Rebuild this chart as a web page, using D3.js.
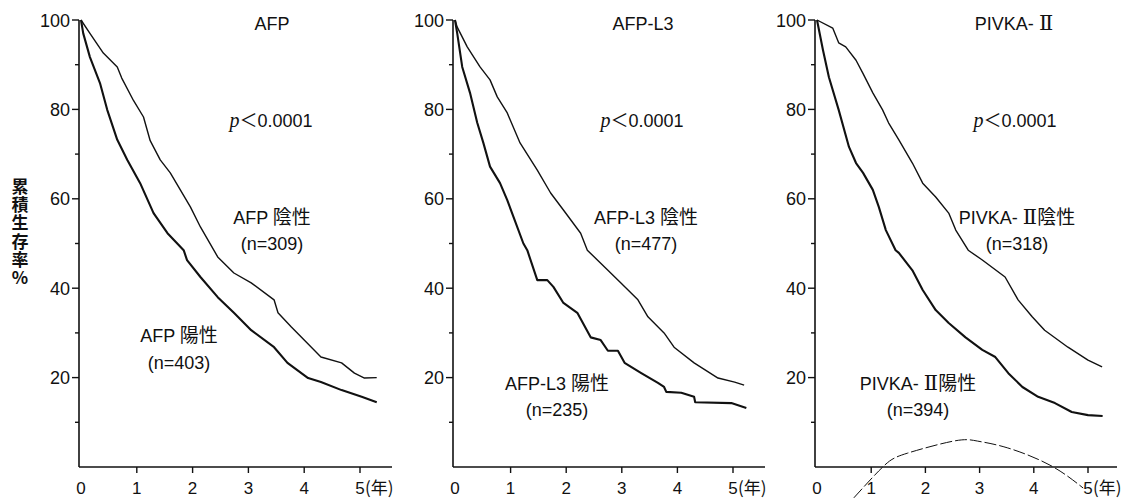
<!DOCTYPE html>
<html><head><meta charset="utf-8">
<script src="https://cdn.jsdelivr.net/npm/d3@7/dist/d3.min.js"></script>
<style>
html,body{margin:0;padding:0;background:#fff;}
svg{display:block;}
.lat{font-family:"Liberation Sans",Arial,sans-serif;}
.jp{font-family:"Noto Sans CJK JP","Liberation Sans",sans-serif;}
.roman{font-family:"DejaVu Serif","Liberation Serif",serif;}
</style>
</head><body>
<svg id="c" width="1135" height="499"></svg>
<script>
// ---- data (years, cumulative survival %) ----
const panelTitles = [["AFP", ""], ["AFP-L3", ""], ["PIVKA- ", "Ⅱ"]];
const negLabels = [["AFP ", "", "陰性"], ["AFP-L3 ", "", "陰性"], ["PIVKA- ", "Ⅱ", "陰性"]];
const posLabels = [["AFP ", "", "陽性"], ["AFP-L3 ", "", "陽性"], ["PIVKA- ", "Ⅱ", "陽性"]];
const negN = ["(n=309)", "(n=477)", "(n=318)"];
const posN = ["(n=403)", "(n=235)", "(n=394)"];
const pText = "0.0001";
const xTicks = [0, 1, 2, 3, 4, 5];
const yTicksMajor = [20, 40, 60, 80, 100];
const yTicksMinor = [10, 30, 50, 70, 90];
const yLabel = "累積生存率%";

const afpNegT = [0,0.16,0.4,0.65,0.73,0.94,1.12,1.24,1.42,1.6,1.78,1.96,2.14,2.38,2.45,2.74,3.05,3.46,3.53,3.77,4.0,4.3,4.67,4.9,5.08,5.3];
const afpNegV = [100,97,92.6,89.5,87,82,78.3,73,68.7,65.8,62,58.2,53.7,48.5,47,43.4,41.2,37.4,34.5,31.3,28.4,24.6,23.3,21,19.9,20];
const afpPosT = [0,0.04,0.16,0.34,0.47,0.65,0.83,1.06,1.3,1.55,1.84,1.9,2.14,2.45,2.74,3.05,3.46,3.7,4.07,4.3,4.67,5.03,5.3];
const afpPosV = [100,97,91.7,85.9,79.9,73.2,68.7,63.5,56.8,52.3,48.5,46.3,42.5,38,34.5,30.6,26.8,23.3,19.9,19,17.2,15.7,14.5];

const l3NegT = [0,0.04,0.22,0.45,0.63,0.76,0.94,1.17,1.48,1.72,1.95,2.26,2.38,2.75,2.98,3.29,3.47,3.76,3.94,4.3,4.73,5.03,5.2];
const l3NegV = [100,98.4,94,89.5,86.6,82.8,79.2,72.5,66.4,61.3,57.5,52.3,48.5,44,41.2,37.4,33.6,30,26.8,23.3,19.9,19,18.3];
const l3PosT = [0,0.04,0.13,0.27,0.4,0.51,0.63,0.81,0.94,1.05,1.23,1.3,1.48,1.66,1.77,1.95,2.2,2.44,2.62,2.75,2.93,3.05,3.35,3.65,3.76,3.8,4.07,4.3,4.32,4.97,5.24];
const l3PosV = [100,97,89.5,83.7,77,72.5,67.2,63.5,59.7,56,50,48.5,41.8,41.8,40.3,36.7,34.5,29,28.4,26,26,23.3,21,18.8,17.9,16.8,16.6,15.7,14.5,14.3,13.2];

const pivNegT = [0,0.29,0.4,0.53,0.72,0.85,1.03,1.21,1.32,1.51,1.76,1.95,2.19,2.43,2.56,2.79,3.05,3.47,3.71,3.97,4.2,4.63,5.0,5.26];
const pivNegV = [100,98.2,94.9,94,91,88,83.7,79.9,77,73.2,68,63.5,60.4,56.8,53,48.5,46.3,42.5,37.4,33.6,30.6,26.8,23.9,22.4];
const pivPosT = [0,0.11,0.22,0.4,0.59,0.72,0.85,1.03,1.14,1.27,1.45,1.51,1.76,1.95,2.19,2.43,2.74,3.05,3.29,3.53,3.79,4.08,4.39,4.7,5.0,5.27];
const pivPosV = [100,93.3,87.2,79.9,71.6,68,65.8,62,58.2,53,48.5,47.9,44,39.6,35.1,32.2,29,26.2,24.6,21,17.9,15.7,14.3,12.3,11.6,11.4];

// stray scan mark on third panel (years, %)
const arcT = [0.68,1.23,1.67,2.52,2.96,3.51,4.30,4.91];
const arcV = [-6.9,0.2,3.1,5.8,5.8,4.3,0.4,-4.7];

// ---- layout ----
const panels = [
  {x0:81,  x5:360,  axisEnd:392,  title:272,  p:271,  neg:[272,224,250], pos:[179,342,369], negT:afpNegT, negV:afpNegV, posT:afpPosT, posV:afpPosV},
  {x0:455, x5:733,  axisEnd:765,  title:643,  p:642,  neg:[646,224,250], pos:[557,390,416], negT:l3NegT, negV:l3NegV, posT:l3PosT, posV:l3PosV},
  {x0:817, x5:1088, axisEnd:1117, title:1014, p:1015, neg:[1017,224,250], pos:[918,390,416], negT:pivNegT, negV:pivNegV, posT:pivPosT, posV:pivPosV}
];
const y = d3.scaleLinear().domain([0,100]).range([467,20]);
const svg = d3.select("#c");
const ink = "#111";

function label(g, parts, cx, cy) {
  const t = g.append("text").attr("x",cx).attr("y",cy).attr("text-anchor","middle").attr("fill",ink);
  t.append("tspan").attr("class","lat").attr("font-size",18).text(parts[0]);
  if (parts[1]) t.append("tspan").attr("class","roman").attr("font-size",21).text(parts[1]);
  if (parts[2]) t.append("tspan").attr("class","jp").attr("font-size",19).text(parts[2]);
}

panels.forEach((P, i) => {
  const x = d3.scaleLinear().domain([0,5]).range([P.x0, P.x5]);
  const axX = P.x0 - 2;
  const g = svg.append("g");

  // y axis
  g.append("line").attr("x1",axX).attr("x2",axX).attr("y1",y(100)).attr("y2",y(0))
    .attr("stroke",ink).attr("stroke-width",1.6);
  yTicksMajor.forEach(v => {
    g.append("line").attr("x1",axX-7).attr("x2",axX).attr("y1",y(v)).attr("y2",y(v)).attr("stroke",ink).attr("stroke-width",1.4);
    g.append("text").attr("class","lat").attr("x",axX-9).attr("y",y(v)+6.5)
      .attr("text-anchor","end").attr("font-size",18).attr("fill",ink).text(v);
  });
  yTicksMinor.forEach(v => {
    g.append("line").attr("x1",axX-4).attr("x2",axX).attr("y1",y(v)).attr("y2",y(v)).attr("stroke",ink).attr("stroke-width",1.4);
  });

  // x axis
  g.append("line").attr("x1",axX).attr("x2",P.axisEnd).attr("y1",y(0)).attr("y2",y(0))
    .attr("stroke",ink).attr("stroke-width",1.6);
  xTicks.forEach(t => {
    if (t > 0) g.append("line").attr("x1",x(t)).attr("x2",x(t)).attr("y1",y(0)).attr("y2",y(0)+6).attr("stroke",ink).attr("stroke-width",1.4);
    g.append("text").attr("class","lat").attr("x",x(t)).attr("y",494)
      .attr("text-anchor","middle").attr("font-size",17).attr("fill",ink).text(t);
  });
  g.append("text").attr("class","jp").attr("x",x(5)+5).attr("y",494)
    .attr("font-size",17).attr("fill",ink).text("(年)");

  // curves
  const line = d3.line().x(d => x(d[0])).y(d => y(d[1])).curve(d3.curveLinear);
  const negData = P.negT.map((t,k) => [t, P.negV[k]]);
  const posData = P.posT.map((t,k) => [t, P.posV[k]]);
  g.append("path").attr("d", line(negData)).attr("fill","none").attr("stroke",ink).attr("stroke-width",1.4).attr("stroke-linejoin","round");
  g.append("path").attr("d", line(posData)).attr("fill","none").attr("stroke",ink).attr("stroke-width",2.1).attr("stroke-linejoin","round");

  // texts
  const tt = g.append("text").attr("x",P.title).attr("y",30).attr("text-anchor","middle").attr("fill",ink);
  tt.append("tspan").attr("class","lat").attr("font-size",18).text(panelTitles[i][0]);
  if (panelTitles[i][1]) tt.append("tspan").attr("class","roman").attr("font-size",21).text(panelTitles[i][1]);

  const pt = g.append("text").attr("x",P.p).attr("y",127).attr("text-anchor","middle").attr("fill",ink);
  pt.append("tspan").attr("font-family","'Liberation Serif',serif").attr("font-style","italic").attr("font-size",20).text("p");
  pt.append("tspan").attr("class","jp").attr("font-size",18).text("＜");
  pt.append("tspan").attr("class","lat").attr("font-size",18).text(pText);

  label(g, negLabels[i], P.neg[0], P.neg[1]);
  g.append("text").attr("class","lat").attr("x",P.neg[0]).attr("y",P.neg[2]).attr("text-anchor","middle")
    .attr("font-size",18).attr("fill",ink).text(negN[i]);
  label(g, posLabels[i], P.pos[0], P.pos[1]);
  g.append("text").attr("class","lat").attr("x",P.pos[0]).attr("y",P.pos[2]).attr("text-anchor","middle")
    .attr("font-size",18).attr("fill",ink).text(posN[i]);

  if (i === 2) {
    const arcLine = d3.line().x(d => x(d[0])).y(d => y(d[1])).curve(d3.curveNatural);
    g.append("path").attr("d", arcLine(arcT.map((t,k)=>[t, arcV[k]])))
      .attr("fill","none").attr("stroke",ink).attr("stroke-width",1).attr("stroke-dasharray","12,3");
  }
});

// y-axis title, written vertically
svg.append("text").attr("class","jp")
  .attr("x",20).attr("y",178)
  .attr("writing-mode","vertical-rl")
  .style("text-orientation","upright")
  .attr("font-size",17).attr("font-weight","bold").attr("letter-spacing",1.2)
  .attr("fill",ink).text(yLabel);
</script>
</body></html>
